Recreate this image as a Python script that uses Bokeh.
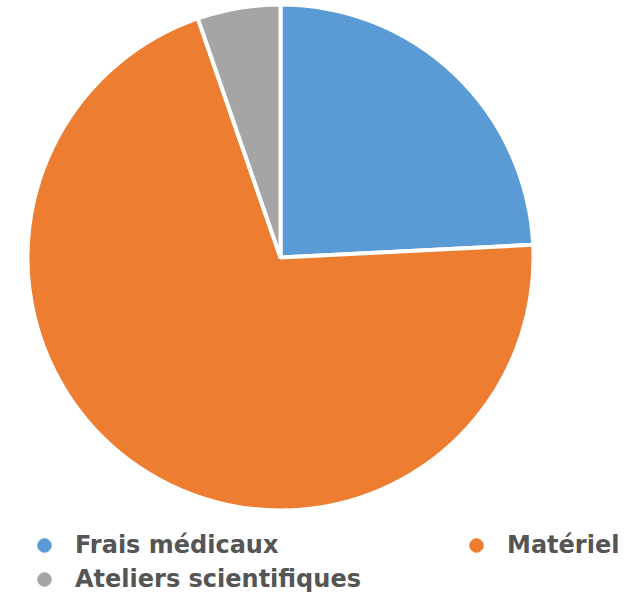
import math
from bokeh.plotting import figure
from bokeh.models import ColumnDataSource, Range1d, Legend, LegendItem
from bokeh.embed import file_html
from bokeh.resources import INLINE

categories = ["Frais médicaux", "Matériel", "Ateliers scientifiques"]
values = [24.2, 70.5, 5.3]
colors = ["#5B9BD5", "#ED7D31", "#A5A5A5"]

W, H = 638, 593
cx, cy, r = 280, 336, 253

total = sum(values)
starts, ends = [], []
a = math.pi / 2
for v in values:
    starts.append(a)
    a -= v / total * 2 * math.pi
    ends.append(a)

p = figure(width=W, height=H, output_backend="svg", toolbar_location=None,
           x_range=Range1d(0, W), y_range=Range1d(0, H), min_border=0)
p.axis.visible = False
p.grid.visible = False
p.outline_line_color = None

src = ColumnDataSource(dict(x=[cx] * 3, y=[cy] * 3, start=starts, end=ends,
                            color=colors, label=categories))
p.wedge(x="x", y="y", radius=r, start_angle="start", end_angle="end",
        direction="clock", fill_color="color", line_color="white", line_width=4,
        source=src)

items = []
for c, lab in zip(colors, categories):
    rr = p.scatter(x=[-1000], y=[-1000], size=16, marker="circle", fill_color=c, line_color=c)
    items.append(LegendItem(label=lab, renderers=[rr]))

legend = Legend(items=items, ncols=2, location=(24, -3), orientation="horizontal",
                label_text_font="DejaVu Sans", label_text_font_size="24px",
                label_text_font_style="bold",
                label_text_color="#555555", glyph_width=40, glyph_height=34,
                label_standoff=11, spacing=0, label_width=381,
                background_fill_alpha=0, border_line_color=None,
                padding=4, margin=0)
p.add_layout(legend, "center")

open("out.html", "w").write(file_html(p, INLINE))
